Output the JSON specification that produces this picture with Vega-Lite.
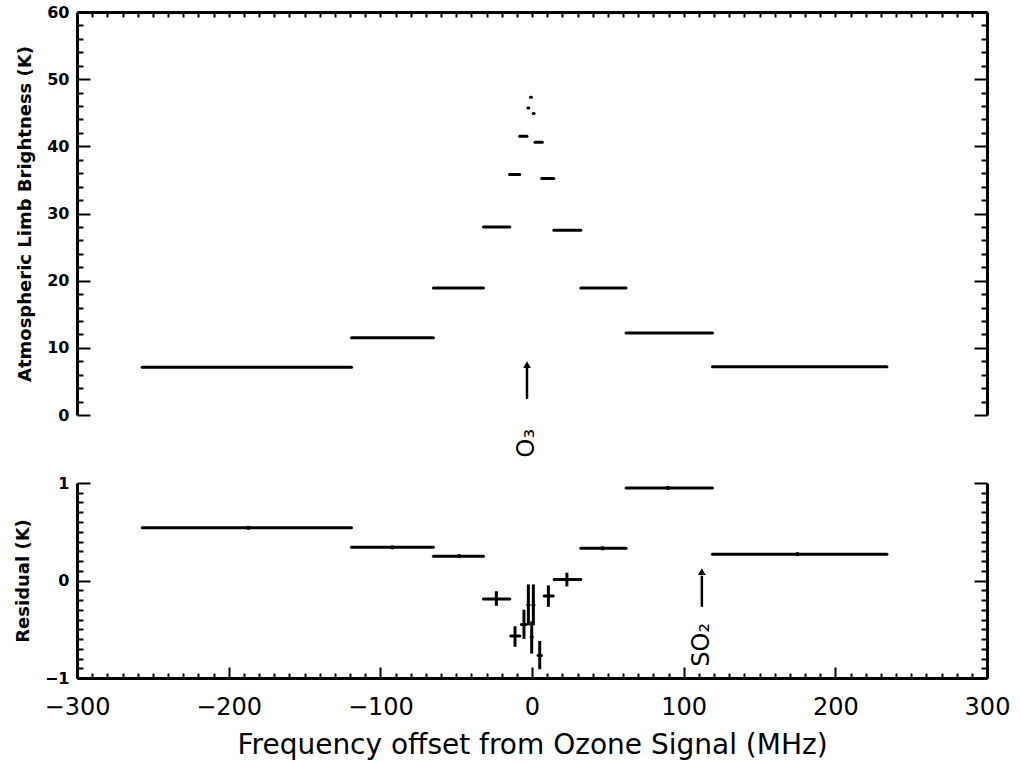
{
  "$schema": "https://vega.github.io/schema/vega-lite/v6.json",
  "background": "white",
  "padding": {"left": 14, "top": 4, "right": 20, "bottom": 2},
  "config": {
    "view": {"stroke": null},
    "font": "DejaVu Sans",
    "axis": {
      "domainColor": "black",
      "domainWidth": 3,
      "tickColor": "black",
      "tickWidth": 2,
      "labelColor": "black",
      "titleColor": "black",
      "grid": false,
      "labelFlush": false,
      "labelOverlap": false
    }
  },
  "datasets": {
    "brightness": [
      {"lo": -257, "hi": -119, "t": 7.1},
      {"lo": -119, "hi": -65, "t": 11.5},
      {"lo": -65, "hi": -32, "t": 18.9},
      {"lo": -32, "hi": -14.6, "t": 28.0},
      {"lo": -14.8, "hi": -8.1, "t": 35.8},
      {"lo": -8.1, "hi": -3.3, "t": 41.5},
      {"lo": -2.7, "hi": -2.1, "t": 45.7},
      {"lo": -1.0, "hi": -0.4, "t": 47.3},
      {"lo": 0.8, "hi": 1.4, "t": 44.9},
      {"lo": 2.0, "hi": 6.8, "t": 40.6},
      {"lo": 6.4, "hi": 14.4, "t": 35.2},
      {"lo": 14.4, "hi": 32.2, "t": 27.5},
      {"lo": 32.2, "hi": 62, "t": 18.9},
      {"lo": 62, "hi": 119, "t": 12.2},
      {"lo": 119, "hi": 234, "t": 7.2}
    ],
    "residual": [
      {"lo": -257, "hi": -119, "xc": -187, "r": 0.54, "rlo": 0.52, "rhi": 0.56},
      {"lo": -119, "hi": -65, "xc": -92, "r": 0.34, "rlo": 0.32, "rhi": 0.36},
      {"lo": -65, "hi": -32, "xc": -48, "r": 0.25, "rlo": 0.23, "rhi": 0.27},
      {"lo": -32, "hi": -14.6, "xc": -23.5, "r": -0.19, "rlo": -0.26, "rhi": -0.11},
      {"lo": -14, "hi": -8, "xc": -11.2, "r": -0.57, "rlo": -0.68, "rhi": -0.47},
      {"lo": -7, "hi": -4, "xc": -5.3, "r": -0.45, "rlo": -0.6, "rhi": -0.3},
      {"lo": -2.8, "hi": -2.0, "xc": -2.4, "r": -0.25, "rlo": -0.46, "rhi": -0.04},
      {"lo": -0.6, "hi": 0.2, "xc": -0.2, "r": -0.58, "rlo": -0.75, "rhi": -0.42},
      {"lo": 0.5, "hi": 1.3, "xc": 0.9, "r": -0.25, "rlo": -0.46, "rhi": -0.04},
      {"lo": 4.0, "hi": 6.2, "xc": 5.1, "r": -0.77, "rlo": -0.91, "rhi": -0.62},
      {"lo": 8, "hi": 14, "xc": 10.8, "r": -0.16, "rlo": -0.27, "rhi": -0.05},
      {"lo": 14.6, "hi": 32.2, "xc": 23, "r": 0.01, "rlo": -0.06, "rhi": 0.08},
      {"lo": 32.2, "hi": 62, "xc": 46.5, "r": 0.33, "rlo": 0.31, "rhi": 0.35},
      {"lo": 62, "hi": 119, "xc": 89.5, "r": 0.95, "rlo": 0.93, "rhi": 0.97},
      {"lo": 119, "hi": 234, "xc": 175, "r": 0.27, "rlo": 0.25, "rhi": 0.29}
    ],
    "o3": [{"x": -3.3, "base": 2.4, "tip": 7.0, "head": 7.5, "labelY": -4.2, "label": "O₃"}],
    "so2": [{"x": 112, "base": -0.27, "tip": 0.05, "head": 0.09, "labelY": -0.66, "label": "SO₂"}]
  },
  "vconcat": [
    {
      "width": 910,
      "height": 403,
      "resolve": {"axis": {"x": "independent", "y": "independent"}},
      "layer": [
        {
          "data": {"name": "brightness"},
          "mark": {"type": "rule", "strokeWidth": 3, "strokeCap": "round", "color": "black"},
          "encoding": {
            "x": {
              "field": "lo", "type": "quantitative",
              "scale": {"domain": [-300, 300], "nice": false, "zero": false},
              "axis": {
                "orient": "top", "values": [-290, -280, -270, -260, -250, -240, -230, -220, -210, -200, -190, -180, -170, -160, -150, -140, -130, -120, -110, -100, -90, -80, -70, -60, -50, -40, -30, -20, -10, 0, 10, 20, 30, 40, 50, 60, 70, 80, 90, 100, 110, 120, 130, 140, 150, 160, 170, 180, 190, 200, 210, 220, 230, 240, 250, 260, 270, 280, 290],
                "labels": false, "tickSize": -5, "title": null
              }
            },
            "x2": {"field": "hi"},
            "y": {
              "field": "t", "type": "quantitative",
              "scale": {"domain": [0, 60], "nice": false, "zero": false},
              "axis": {
                "orient": "left", "values": [0, 10, 20, 30, 40, 50, 60],
                "tickSize": -13, "labelPadding": 21,
                "labelFont": "DejaVu Sans", "labelFontWeight": "bold", "labelFontSize": 16,
                "title": "Atmospheric Limb Brightness (K)",
                "titleFont": "DejaVu Sans", "titleFontWeight": "bold", "titleFontSize": 18,
                "titlePadding": 12
              }
            }
          }
        },
        {
          "data": {"name": "o3"},
          "mark": {"type": "rule", "strokeWidth": 2.5, "color": "black"},
          "encoding": {
            "x": {"field": "x", "type": "quantitative", "scale": {"domain": [-300, 300], "nice": false, "zero": false}, "axis": null},
            "y": {
              "field": "base", "type": "quantitative",
              "scale": {"domain": [0, 60], "nice": false, "zero": false},
              "axis": {"orient": "left", "values": [2, 4, 6, 8, 12, 14, 16, 18, 22, 24, 26, 28, 32, 34, 36, 38, 42, 44, 46, 48, 52, 54, 56, 58], "tickSize": -6, "labels": false, "domain": false, "title": null}
            },
            "y2": {"field": "tip"}
          }
        },
        {
          "data": {"name": "o3"},
          "mark": {"type": "point", "shape": "triangle-up", "filled": true, "size": 60, "color": "black", "opacity": 1},
          "encoding": {
            "x": {"field": "x", "type": "quantitative", "scale": {"domain": [-300, 300], "nice": false, "zero": false}, "axis": null},
            "y": {
              "field": "head", "type": "quantitative",
              "scale": {"domain": [0, 60], "nice": false, "zero": false},
              "axis": {"orient": "right", "values": [0, 10, 20, 30, 40, 50, 60], "tickSize": -13, "labels": false, "title": null}
            }
          }
        },
        {
          "data": {"name": "o3"},
          "mark": {"type": "text", "angle": 270, "fontSize": 24, "font": "DejaVu Sans", "color": "black", "align": "center", "baseline": "middle"},
          "encoding": {
            "x": {"field": "x", "type": "quantitative", "scale": {"domain": [-300, 300], "nice": false, "zero": false}, "axis": null},
            "y": {
              "field": "labelY", "type": "quantitative",
              "scale": {"domain": [0, 60], "nice": false, "zero": false},
              "axis": {"orient": "right", "values": [2, 4, 6, 8, 12, 14, 16, 18, 22, 24, 26, 28, 32, 34, 36, 38, 42, 44, 46, 48, 52, 54, 56, 58], "tickSize": -6, "labels": false, "domain": false, "title": null}
            },
            "text": {"field": "label"}
          }
        }
      ]
    },
    {
      "width": 910,
      "height": 195,
      "resolve": {"axis": {"x": "independent", "y": "independent"}},
      "layer": [
        {
          "data": {"name": "residual"},
          "mark": {"type": "rule", "strokeWidth": 3, "strokeCap": "round", "color": "black"},
          "encoding": {
            "x": {
              "field": "lo", "type": "quantitative",
              "scale": {"domain": [-300, 300], "nice": false, "zero": false},
              "axis": {
                "orient": "bottom", "values": [-300, -200, -100, 0, 100, 200, 300],
                "tickSize": -11, "labelPadding": 28,
                "labelFont": "DejaVu Sans", "labelFontSize": 24,
                "title": "Frequency offset from Ozone Signal (MHz)",
                "titleFont": "DejaVu Sans", "titleFontWeight": "normal", "titleFontSize": 28,
                "titlePadding": 12
              }
            },
            "x2": {"field": "hi"},
            "y": {
              "field": "r", "type": "quantitative",
              "scale": {"domain": [-1, 1], "nice": false, "zero": false},
              "axis": {
                "orient": "left", "values": [-1, 0, 1],
                "labelExpr": "datum.value < 0 ? '−1' : (datum.value > 0 ? '1' : '0')",
                "tickSize": -13, "labelPadding": 21,
                "labelFont": "DejaVu Sans", "labelFontWeight": "bold", "labelFontSize": 16,
                "title": "Residual (K)",
                "titleFont": "DejaVu Sans", "titleFontWeight": "bold", "titleFontSize": 18,
                "titlePadding": 12
              }
            }
          }
        },
        {
          "data": {"name": "residual"},
          "mark": {"type": "rule", "strokeWidth": 3, "color": "black"},
          "encoding": {
            "x": {
              "field": "xc", "type": "quantitative",
              "scale": {"domain": [-300, 300], "nice": false, "zero": false},
              "axis": {
                "orient": "bottom", "values": [-290, -280, -270, -260, -250, -240, -230, -220, -210, -190, -180, -170, -160, -150, -140, -130, -120, -110, -90, -80, -70, -60, -50, -40, -30, -20, -10, 10, 20, 30, 40, 50, 60, 70, 80, 90, 110, 120, 130, 140, 150, 160, 170, 180, 190, 210, 220, 230, 240, 250, 260, 270, 280, 290],
                "tickSize": -5, "labels": false, "domain": false, "title": null
              }
            },
            "y": {
              "field": "rlo", "type": "quantitative",
              "scale": {"domain": [-1, 1], "nice": false, "zero": false},
              "axis": {"orient": "left", "values": [-0.9, -0.8, -0.7, -0.6, -0.5, -0.4, -0.3, -0.2, -0.1, 0.1, 0.2, 0.3, 0.4, 0.5, 0.6, 0.7, 0.8, 0.9], "tickSize": -6, "labels": false, "domain": false, "title": null}
            },
            "y2": {"field": "rhi"}
          }
        },
        {
          "data": {"name": "so2"},
          "mark": {"type": "rule", "strokeWidth": 2.5, "color": "black"},
          "encoding": {
            "x": {"field": "x", "type": "quantitative", "scale": {"domain": [-300, 300], "nice": false, "zero": false}, "axis": null},
            "y": {
              "field": "base", "type": "quantitative",
              "scale": {"domain": [-1, 1], "nice": false, "zero": false},
              "axis": {"orient": "right", "values": [-1, 0, 1], "tickSize": -13, "labels": false, "title": null}
            },
            "y2": {"field": "tip"}
          }
        },
        {
          "data": {"name": "so2"},
          "mark": {"type": "point", "shape": "triangle-up", "filled": true, "size": 60, "color": "black", "opacity": 1},
          "encoding": {
            "x": {"field": "x", "type": "quantitative", "scale": {"domain": [-300, 300], "nice": false, "zero": false}, "axis": null},
            "y": {
              "field": "head", "type": "quantitative",
              "scale": {"domain": [-1, 1], "nice": false, "zero": false},
              "axis": {"orient": "right", "values": [-0.9, -0.8, -0.7, -0.6, -0.5, -0.4, -0.3, -0.2, -0.1, 0.1, 0.2, 0.3, 0.4, 0.5, 0.6, 0.7, 0.8, 0.9], "tickSize": -6, "labels": false, "domain": false, "title": null}
            }
          }
        },
        {
          "data": {"name": "so2"},
          "mark": {"type": "text", "angle": 270, "fontSize": 24, "font": "DejaVu Sans", "color": "black", "align": "center", "baseline": "middle"},
          "encoding": {
            "x": {"field": "x", "type": "quantitative", "scale": {"domain": [-300, 300], "nice": false, "zero": false}, "axis": null},
            "y": {"field": "labelY", "type": "quantitative", "scale": {"domain": [-1, 1], "nice": false, "zero": false}, "axis": null},
            "text": {"field": "label"}
          }
        }
      ]
    }
  ],
  "spacing": 17
}
